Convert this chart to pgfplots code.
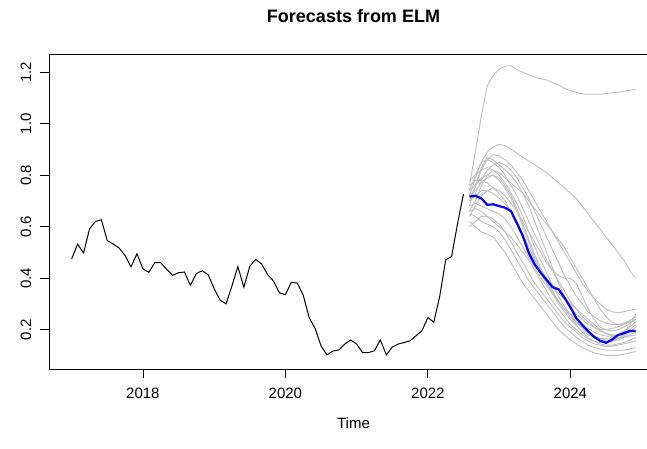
\documentclass[border=0pt]{standalone}
\usepackage{fontspec}
\setmainfont{Liberation Sans}
\usepackage{pgfplots}
\usepackage{pgfplotstable}
\pgfplotsset{compat=1.18}
\definecolor{fcgrey}{RGB}{190,190,190}
\pgfplotstableread{
t y
2017.000 0.475
2017.083 0.532
2017.167 0.498
2017.250 0.591
2017.333 0.620
2017.417 0.627
2017.500 0.546
2017.583 0.533
2017.667 0.517
2017.750 0.488
2017.833 0.444
2017.917 0.495
2018.000 0.436
2018.083 0.423
2018.167 0.460
2018.250 0.460
2018.333 0.435
2018.417 0.411
2018.500 0.421
2018.583 0.424
2018.667 0.372
2018.750 0.418
2018.833 0.429
2018.917 0.413
2019.000 0.359
2019.083 0.315
2019.167 0.300
2019.250 0.370
2019.333 0.445
2019.417 0.365
2019.500 0.446
2019.583 0.473
2019.667 0.455
2019.750 0.414
2019.833 0.389
2019.917 0.343
2020.000 0.336
2020.083 0.384
2020.167 0.381
2020.250 0.334
2020.333 0.247
2020.417 0.205
2020.500 0.137
2020.583 0.102
2020.667 0.117
2020.750 0.121
2020.833 0.144
2020.917 0.160
2021.000 0.144
2021.083 0.111
2021.167 0.111
2021.250 0.118
2021.333 0.160
2021.417 0.102
2021.500 0.132
2021.583 0.144
2021.667 0.150
2021.750 0.157
2021.833 0.176
2021.917 0.196
2022.000 0.247
2022.083 0.229
2022.167 0.331
2022.250 0.471
2022.333 0.484
2022.417 0.613
2022.500 0.727
}\obs
\pgfplotstableread{
t mean g1 g2 g3 g4 g5 g6 g7 g8 g9 g10 g11 g12 g13 g14 g15 g16 g17 g18
2022.583 0.717 0.76 0.72 0.70 0.68 0.74 0.66 0.64 0.65 0.62 0.68 0.76 0.70 0.78 0.60 0.72 0.66 0.74 0.70
2022.667 0.720 0.89 0.79 0.76 0.76 0.80 0.70 0.68 0.64 0.60 0.69 0.78 0.72 0.80 0.62 0.74 0.67 0.76 0.73
2022.750 0.710 1.03 0.85 0.82 0.83 0.85 0.76 0.72 0.62 0.58 0.68 0.78 0.74 0.82 0.64 0.77 0.66 0.79 0.78
2022.833 0.685 1.147 0.89 0.86 0.87 0.86 0.80 0.74 0.61 0.57 0.67 0.77 0.74 0.83 0.64 0.79 0.64 0.80 0.82
2022.917 0.687 1.188 0.91 0.88 0.86 0.85 0.82 0.75 0.60 0.56 0.66 0.75 0.73 0.82 0.63 0.80 0.62 0.80 0.84
2023.000 0.680 1.212 0.92 0.875 0.84 0.83 0.81 0.74 0.58 0.53 0.65 0.73 0.71 0.80 0.61 0.79 0.60 0.78 0.85
2023.083 0.674 1.224 0.915 0.86 0.82 0.80 0.79 0.72 0.55 0.50 0.63 0.70 0.69 0.77 0.58 0.76 0.58 0.75 0.84
2023.167 0.660 1.225 0.90 0.84 0.80 0.76 0.77 0.69 0.51 0.46 0.60 0.66 0.66 0.73 0.54 0.72 0.56 0.71 0.82
2023.250 0.613 1.21 0.885 0.81 0.77 0.72 0.75 0.66 0.47 0.42 0.56 0.61 0.62 0.69 0.50 0.67 0.53 0.66 0.79
2023.333 0.564 1.20 0.87 0.78 0.73 0.67 0.73 0.62 0.43 0.38 0.52 0.56 0.57 0.64 0.46 0.61 0.50 0.60 0.75
2023.417 0.497 1.19 0.855 0.74 0.68 0.62 0.70 0.58 0.39 0.35 0.48 0.51 0.52 0.58 0.42 0.55 0.47 0.54 0.71
2023.500 0.453 1.18 0.84 0.70 0.62 0.57 0.67 0.54 0.36 0.32 0.44 0.46 0.47 0.52 0.38 0.49 0.43 0.48 0.66
2023.583 0.421 1.175 0.825 0.66 0.56 0.52 0.64 0.50 0.33 0.29 0.40 0.42 0.43 0.47 0.35 0.44 0.39 0.43 0.61
2023.667 0.393 1.17 0.81 0.62 0.50 0.47 0.61 0.46 0.30 0.26 0.37 0.38 0.40 0.42 0.32 0.39 0.35 0.38 0.56
2023.750 0.365 1.16 0.79 0.58 0.44 0.43 0.58 0.43 0.27 0.23 0.34 0.34 0.37 0.37 0.29 0.35 0.31 0.34 0.51
2023.833 0.357 1.15 0.77 0.54 0.38 0.39 0.55 0.41 0.24 0.20 0.31 0.31 0.34 0.33 0.26 0.31 0.28 0.30 0.46
2023.917 0.324 1.137 0.75 0.50 0.33 0.35 0.52 0.40 0.21 0.18 0.28 0.28 0.32 0.29 0.23 0.28 0.25 0.27 0.41
2024.000 0.287 1.129 0.73 0.46 0.29 0.31 0.48 0.40 0.19 0.16 0.25 0.25 0.30 0.26 0.21 0.26 0.22 0.24 0.37
2024.083 0.245 1.122 0.71 0.42 0.26 0.28 0.44 0.38 0.17 0.145 0.22 0.23 0.28 0.23 0.19 0.24 0.20 0.215 0.33
2024.167 0.218 1.116 0.68 0.38 0.24 0.25 0.40 0.33 0.155 0.13 0.19 0.21 0.26 0.205 0.17 0.22 0.18 0.195 0.30
2024.250 0.194 1.115 0.65 0.35 0.22 0.23 0.36 0.28 0.14 0.12 0.17 0.19 0.24 0.185 0.155 0.205 0.165 0.18 0.27
2024.333 0.172 1.115 0.62 0.32 0.21 0.21 0.32 0.24 0.13 0.11 0.155 0.175 0.22 0.17 0.145 0.19 0.155 0.17 0.25
2024.417 0.157 1.115 0.59 0.30 0.20 0.195 0.28 0.21 0.125 0.105 0.145 0.165 0.20 0.16 0.14 0.18 0.15 0.165 0.235
2024.500 0.149 1.117 0.56 0.28 0.20 0.185 0.25 0.20 0.12 0.10 0.14 0.16 0.185 0.155 0.135 0.175 0.15 0.165 0.225
2024.583 0.161 1.12 0.53 0.27 0.205 0.18 0.23 0.195 0.12 0.10 0.14 0.16 0.175 0.155 0.135 0.175 0.155 0.17 0.22
2024.667 0.179 1.122 0.50 0.265 0.21 0.18 0.22 0.20 0.12 0.10 0.145 0.165 0.17 0.16 0.14 0.18 0.165 0.18 0.22
2024.750 0.186 1.126 0.47 0.27 0.22 0.185 0.22 0.21 0.12 0.105 0.15 0.175 0.17 0.17 0.145 0.19 0.18 0.195 0.225
2024.833 0.195 1.13 0.43 0.275 0.235 0.19 0.23 0.225 0.125 0.11 0.16 0.19 0.175 0.18 0.15 0.21 0.20 0.215 0.235
2024.917 0.195 1.134 0.40 0.28 0.25 0.20 0.24 0.24 0.13 0.115 0.17 0.21 0.18 0.19 0.155 0.23 0.22 0.26 0.25
}\fc
\begin{document}
\begin{tikzpicture}
\begin{axis}[
  scale only axis,
  width=609pt, height=315.3pt,
  at={(49pt,79.7pt)}, anchor=south west,
  xmin=2016.682, xmax=2025.23,
  ymin=0.046, ymax=1.271,
  axis line style={line width=0.8pt, black},
  tick style={line width=0.8pt, black},
  tick align=outside,
  major tick length=9pt,
  tick pos=left,
  xtick={2018,2020,2022,2024},
  xticklabels={2018,2020,2022,2024},
  ytick={0.2,0.4,0.6,0.8,1.0,1.2},
  yticklabels={0.2,0.4,0.6,0.8,1.0,1.2},
  ticklabel style={font=\fontsize{15}{17}\selectfont},
  xticklabel style={anchor=base, yshift=-20pt},
  yticklabel style={rotate=90, anchor=base, yshift=8.9pt},
  title={\bfseries Forecasts from ELM},
  title style={font=\fontsize{18}{21}\selectfont, at={(0.5,1)}, anchor=center, yshift=32pt},
  xlabel={Time},
  xlabel style={font=\fontsize{15}{17}\selectfont, at={(0.5,0)}, anchor=center, yshift=-53.7pt},
  clip=true,
]
\addplot[black, line width=1pt] table[x=t, y=y] {\obs};
\foreach \g in {g1,g2,g3,g4,g5,g6,g7,g8,g9,g10,g11,g12,g13,g14,g15,g16,g17,g18}{
  \addplot[fcgrey, line width=0.9pt] table[x=t, y=\g] {\fc};
}
\addplot[blue, line width=2.2pt] table[x=t, y=mean] {\fc};
\end{axis}
\pgfresetboundingbox
\path[use as bounding box] (0,0) rectangle (647pt,449pt);
\end{tikzpicture}
\end{document}
